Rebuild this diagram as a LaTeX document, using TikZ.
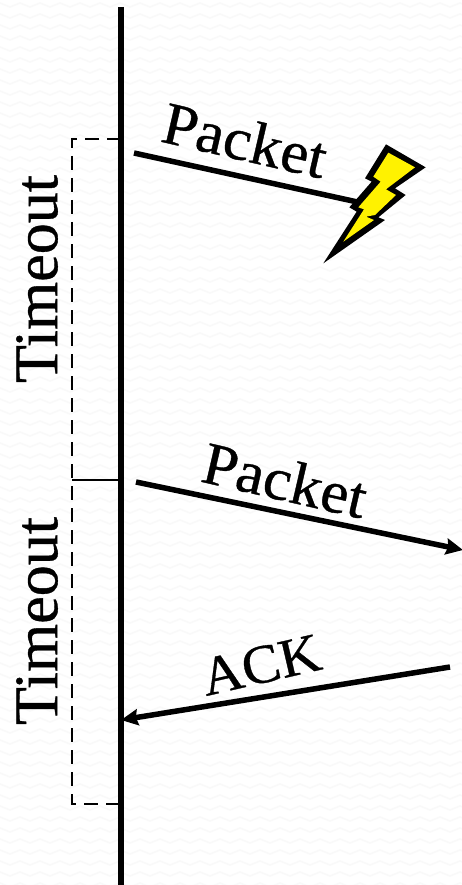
\documentclass[tikz,border=0pt]{standalone}
\usepackage{fontspec}
\setmainfont{Liberation Serif}[FakeBold=0.6]
\definecolor{bgzig}{RGB}{249,249,249}
\usetikzlibrary{arrows.meta}
\tikzset{
  lifeline/.style={line width=6pt},
  msg/.style={line width=5.5pt},
  msgarrow/.style={msg,-{Stealth[length=17pt,width=16pt,inset=2pt]}},
  timer/.style={line width=2.6pt,dash pattern=on 14pt off 8pt},
  lbl/.style={font=\fontsize{60}{60}\selectfont,inner sep=0pt,text=black},
  acklbl/.style={font=\fontsize{55}{55}\selectfont,inner sep=0pt,text=black},
  vlbl/.style={font=\fontsize{62}{62}\selectfont,inner sep=0pt,text=black,rotate=90},
}
\begin{document}
\begin{tikzpicture}[x=1pt,y=-1pt]
\useasboundingbox (0,0) rectangle (462,885);
\fill[white] (0,0) rectangle (462,885);
\foreach \r in {0,...,80}{
  \draw[bgzig,line width=1.6pt] (-10,{\r*11+3})
    \foreach \c in {0,...,24}{ -- ({\c*20},{\r*11+3}) -- ({\c*20+10},{\r*11+7}) };
}
\coordinate (top) at (121,7);
\coordinate (bot) at (121,885);
\draw[lifeline] (top) -- (bot);
\coordinate (t1) at (121,139);
\coordinate (t1l) at (72,139);
\coordinate (t2) at (121,480);
\coordinate (t2l) at (72,480);
\coordinate (t3) at (121,804);
\coordinate (t3l) at (72,804);
\draw[timer] (t1) -- (t1l) -- (t2l) -- (t3l) -- (t3);
\draw[line width=2.6pt] (t2l) -- (t2);
\coordinate (p1a) at (134,153);
\coordinate (p1b) at (362,203);
\draw[msg] (p1a) -- (p1b);
\coordinate (p2a) at (136,482);
\coordinate (p2b) at (463,550);
\draw[msgarrow] (p2a) -- (p2b);
\coordinate (aa) at (450,667);
\coordinate (ab) at (121,720);
\draw[msgarrow] (aa) -- (ab);
\node[lbl,rotate=-13,xscale=1.04] (l1) at (245,140) {Packet};
\node[lbl,rotate=-13,xscale=1.04] (l2) at (285,480) {Packet};
\node[acklbl,rotate=13,xscale=1.04] (l3) at (261,665) {ACK};
\node[vlbl] (v1) at (37,279) {Timeout};
\node[vlbl] (v2) at (37,621) {Timeout};
\begin{scope}[shift={(310,130)},x=0.3333pt,y=-0.3333pt]
\fill[black] (228,43) -- (347,112) -- (255,175) -- (287,195) -- (205,262) -- (225,270)
  -- (40,400) -- (140,245) -- (118,232) -- (185,155) -- (165,145) -- cycle;
\fill[yellow] (235,68) -- (315,112) -- (228,178) -- (258,195) -- (195,255) -- (168,260)
  -- (192,270) -- (100,335) -- (162,238) -- (145,232) -- (212,155) -- (190,140) -- cycle;
\end{scope}
\end{tikzpicture}
\end{document}
